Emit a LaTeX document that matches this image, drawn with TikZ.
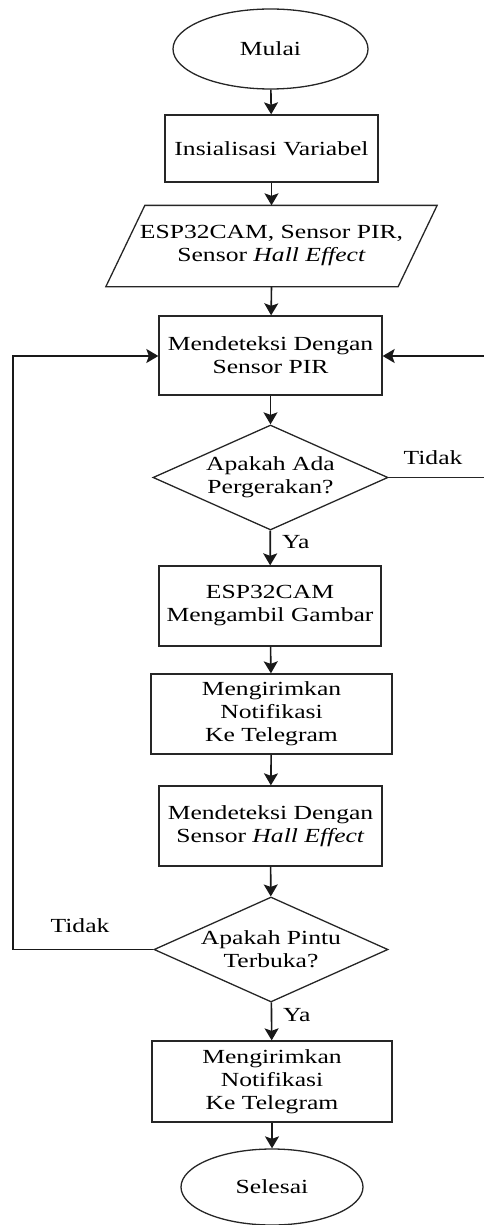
\documentclass[tikz,border=0pt]{standalone}
\usepackage{fontspec}
\setmainfont{Liberation Serif}[FakeStretch=1.28]
\usetikzlibrary{shapes.geometric,arrows.meta,calc}
\tikzset{
  base/.style={font=\fontsize{20}{23}\selectfont, align=center, inner sep=0pt, line width=1.3pt, draw=black!85},
  term/.style={base, ellipse},
  proc/.style={base, rectangle},
  dec/.style={base, diamond, aspect=2.24},
  io/.style={base, rectangle, draw=none},
  lbl/.style={font=\fontsize{20}{23}\selectfont, inner sep=0pt},
  flow/.style={line width=1.6pt, draw=black!90, -{Stealth[length=12pt,width=14pt,inset=2.5pt]}},
  link/.style={line width=1.3pt, draw=black!85}
}
\begin{document}
\begin{tikzpicture}[x=1pt,y=-1pt]
\useasboundingbox (0,0) rectangle (484,1225);
\node[term, minimum width=195pt, minimum height=80pt] (mulai) at (270.5,49) {Mulai};
\node[proc, minimum width=213pt, minimum height=67pt] (init) at (271.5,148.5) {Insialisasi Variabel};
\node[io, minimum width=291pt, minimum height=80pt] (io) at (271.5,246) {ESP32CAM, Sensor PIR,\\Sensor \textit{Hall Effect}};
\draw[link] ($(io.north west)+(19.5,0)$) -- ($(io.north east)+(19.5,0)$) -- ($(io.south east)+(-19.5,0)$) -- ($(io.south west)+(-19.5,0)$) -- cycle;
\node[proc, minimum width=223pt, minimum height=79pt] (pir) at (270.5,355.5) {Mendeteksi Dengan\\Sensor PIR};
\node[dec, minimum width=235pt, minimum height=105pt] (d1) at (270.5,477.5) {Apakah Ada\\Pergerakan?};
\node[proc, minimum width=222pt, minimum height=80pt] (cam) at (270,606) {ESP32CAM\\Mengambil Gambar};
\node[proc, minimum width=241pt, minimum height=80pt] (notif1) at (271.5,714) {Mengirimkan\\Notifikasi\\Ke Telegram};
\node[proc, minimum width=223pt, minimum height=80pt] (hall) at (270.5,826) {Mendeteksi Dengan\\Sensor \textit{Hall Effect}};
\node[dec, minimum width=234pt, minimum height=105pt] (d2) at (271,949.5) {Apakah Pintu\\Terbuka?};
\node[proc, minimum width=240pt, minimum height=81pt] (notif2) at (272,1081.5) {Mengirimkan\\Notifikasi\\Ke Telegram};
\node[term, minimum width=182pt, minimum height=76pt] (selesai) at (272,1187) {Selesai};

\coordinate (r1) at (492,477.5);
\coordinate (r2) at (492,356);
\coordinate (l1) at (13,949.5);
\coordinate (l2) at (13,356);

\draw[flow] (mulai) -- (init);
\draw[flow] (init) -- (io.north);
\draw[flow] (io.south) -- (pir);
\draw[flow] (pir) -- (d1);
\draw[flow] (d1) -- (cam);
\draw[flow] (cam) -- (notif1);
\draw[flow] (notif1) -- (hall);
\draw[flow] (hall) -- (d2);
\draw[flow] (d2) -- (notif2);
\draw[flow] (notif2) -- (selesai);
\draw[link] (d1.east) -- (r1) -- (r2);
\draw[flow] (r2) -- (pir.east |- r2);
\draw[flow] (d2.west) -- (l1) -- (l2) -- (pir.west |- l2);

\node[lbl, anchor=west] (ya1) at (282,542) {Ya};
\node[lbl, anchor=west] (ya2) at (283,1015) {Ya};
\node[lbl] (t1) at (433,458) {Tidak};
\node[lbl] (t2) at (80,926) {Tidak};
\end{tikzpicture}
\end{document}
